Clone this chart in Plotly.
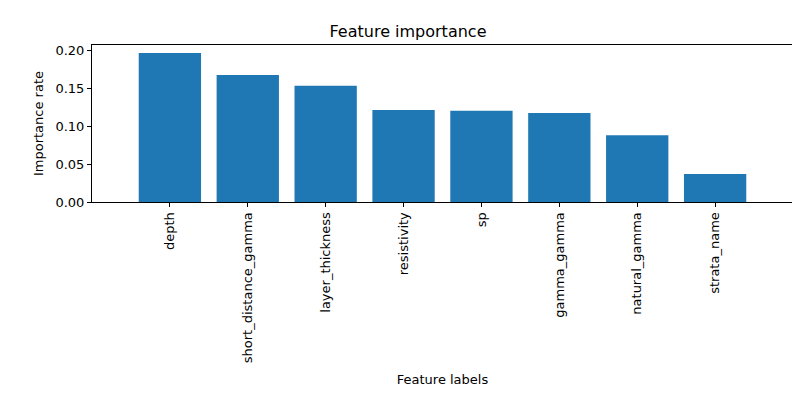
import plotly.graph_objects as go

features = ["depth", "short_distance_gamma", "layer_thickness", "resistivity",
            "sp", "gamma_gamma", "natural_gamma", "strata_name"]
importance = [0.196, 0.167, 0.153, 0.121, 0.120, 0.117, 0.088, 0.037]
y_ticks = [0.0, 0.05, 0.10, 0.15, 0.20]
y_tick_labels = ["0.00", "0.05", "0.10", "0.15", "0.20"]

positions = list(range(len(features)))

fig = go.Figure()
fig.add_trace(go.Bar(x=positions, y=importance, width=0.8,
                     marker=dict(color="#1f77b4", line=dict(width=0))))

axis_common = dict(showline=True, linecolor="black", linewidth=1, mirror=True,
                   showgrid=False, zeroline=False, ticks="outside",
                   ticklen=4, tickcolor="black",
                   tickfont=dict(size=13, color="black"))

fig.update_layout(
    width=800, height=400,
    margin=dict(l=84, r=15, t=37, b=206),
    plot_bgcolor="white", paper_bgcolor="white",
    font=dict(family="DejaVu Sans", color="black"),
    title=dict(text="Feature importance", x=0.5, xanchor="center",
               y=1 - 23 / 400, yanchor="middle", font=dict(size=16)),
    showlegend=False,
    xaxis=dict(axis_common, tickmode="array", tickvals=positions, ticktext=features,
               tickangle=-90, range=[-1.0, 8.0],
               title=dict(text="Feature labels", font=dict(size=13), standoff=12)),
    yaxis=dict(axis_common, tickmode="array", tickvals=y_ticks, ticktext=y_tick_labels,
               range=[0, 0.2066],
               title=dict(text="Importance rate", font=dict(size=13), standoff=8)),
)

fig.write_html("out.html")
